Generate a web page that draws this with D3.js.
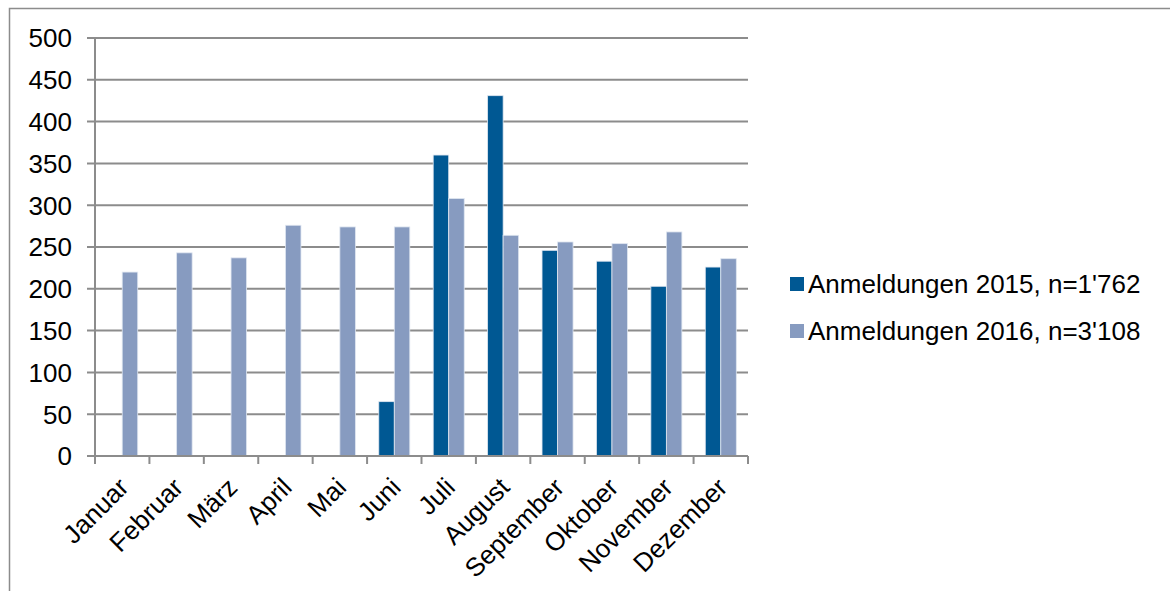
<!DOCTYPE html>
<html>
<head>
<meta charset="utf-8">
<script src="https://cdn.jsdelivr.net/npm/d3@7"></script>
<style>
  body { margin: 0; background: #fff; }
  text { font-family: "Liberation Sans", Arial, sans-serif; fill: #000; }
</style>
</head>
<body>
<svg id="chart" width="1170" height="591"></svg>
<script>
// months shown on the x axis
var months = ["Januar", "Februar", "März", "April", "Mai", "Juni", "Juli",
  "August", "September", "Oktober", "November", "Dezember"];

// registrations per month (2015 starts in June)
var values2015 = [0, 0, 0, 0, 0, 65, 360, 431, 246, 233, 203, 226];
var values2016 = [220, 243, 237, 276, 274, 274, 308, 264, 256, 254, 268, 236];

var seriesNames = ["Anmeldungen 2015, n=1'762", "Anmeldungen 2016, n=3'108"];
var yTicks = [0, 50, 100, 150, 200, 250, 300, 350, 400, 450, 500];

var colors = ["#005893", "#879bc0"];

var margin = { top: 38, left: 95 },
  width = 653,
  height = 418;

var svg = d3.select("#chart");

// outer frame
svg.append("rect")
  .attr("x", 9.5).attr("y", 8.5)
  .attr("width", 1200).attr("height", 700)
  .attr("fill", "none")
  .attr("stroke", "#8c8c8c")
  .attr("stroke-width", 1.5);

var g = svg.append("g")
  .attr("transform", "translate(" + margin.left + "," + margin.top + ")");

var x = d3.scaleBand()
  .domain(months)
  .range([0, width])
  .paddingInner(0.43)
  .paddingOuter(0.215);

var y = d3.scaleLinear()
  .domain([0, 500])
  .range([height, 0]);

// gridlines + left ticks
g.selectAll(".grid")
  .data(yTicks)
  .enter().append("line")
  .attr("x1", -8).attr("x2", width)
  .attr("y1", function (d) { return y(d); })
  .attr("y2", function (d) { return y(d); })
  .attr("stroke", "#8c8c8c")
  .attr("stroke-width", 2);

// y labels
g.selectAll(".ylab")
  .data(yTicks)
  .enter().append("text")
  .attr("x", -23)
  .attr("y", function (d) { return y(d); })
  .attr("dy", "0.36em")
  .attr("text-anchor", "end")
  .style("font-size", "26px")
  .text(function (d) { return d; });

// bars
var inner = d3.scaleBand()
  .domain([0, 1])
  .range([0, x.bandwidth()]);

[values2015, values2016].forEach(function (vals, si) {
  var rows = vals.map(function (v, i) { return { month: months[i], value: v }; })
    .filter(function (d) { return d.value > 0; });
  g.selectAll(".bar" + si)
    .data(rows)
    .enter().append("rect")
    .attr("x", function (d) { return x(d.month) + inner(si); })
    .attr("y", function (d) { return y(d.value); })
    .attr("width", inner.bandwidth())
    .attr("height", function (d) { return height - y(d.value); })
    .attr("fill", colors[si])
    .attr("stroke", "#dfe6f0")
    .attr("stroke-width", 0.8);
});

// y axis line
g.append("line")
  .attr("x1", 0).attr("x2", 0)
  .attr("y1", 0).attr("y2", height)
  .attr("stroke", "#8c8c8c")
  .attr("stroke-width", 2);

// x axis with ticks between categories
var step = width / months.length;
g.append("line")
  .attr("x1", 0).attr("x2", width)
  .attr("y1", height).attr("y2", height)
  .attr("stroke", "#8c8c8c")
  .attr("stroke-width", 2);

g.selectAll(".xtick")
  .data(d3.range(months.length + 1))
  .enter().append("line")
  .attr("x1", function (d) { return d * step; })
  .attr("x2", function (d) { return d * step; })
  .attr("y1", height).attr("y2", height + 8)
  .attr("stroke", "#8c8c8c")
  .attr("stroke-width", 2);

// rotated month labels
g.selectAll(".xlab")
  .data(months)
  .enter().append("text")
  .attr("text-anchor", "end")
  .style("font-size", "26px")
  .attr("transform", function (d) {
    var cx = x(d) + x.bandwidth() / 2 + 8;
    return "translate(" + cx + "," + (height + 33) + ") rotate(-45)";
  })
  .text(function (d) { return d; });

// legend
var legend = svg.append("g")
  .attr("transform", "translate(790,284)");

seriesNames.forEach(function (name, i) {
  var row = legend.append("g")
    .attr("transform", "translate(0," + (i * 47) + ")");
  row.append("rect")
    .attr("x", 0).attr("y", -7)
    .attr("width", 14).attr("height", 14)
    .attr("fill", colors[i]);
  row.append("text")
    .attr("x", 18)
    .attr("y", 0)
    .attr("dy", "0.36em")
    .style("font-size", "26px")
    .text(name);
});
</script>
</body>
</html>
